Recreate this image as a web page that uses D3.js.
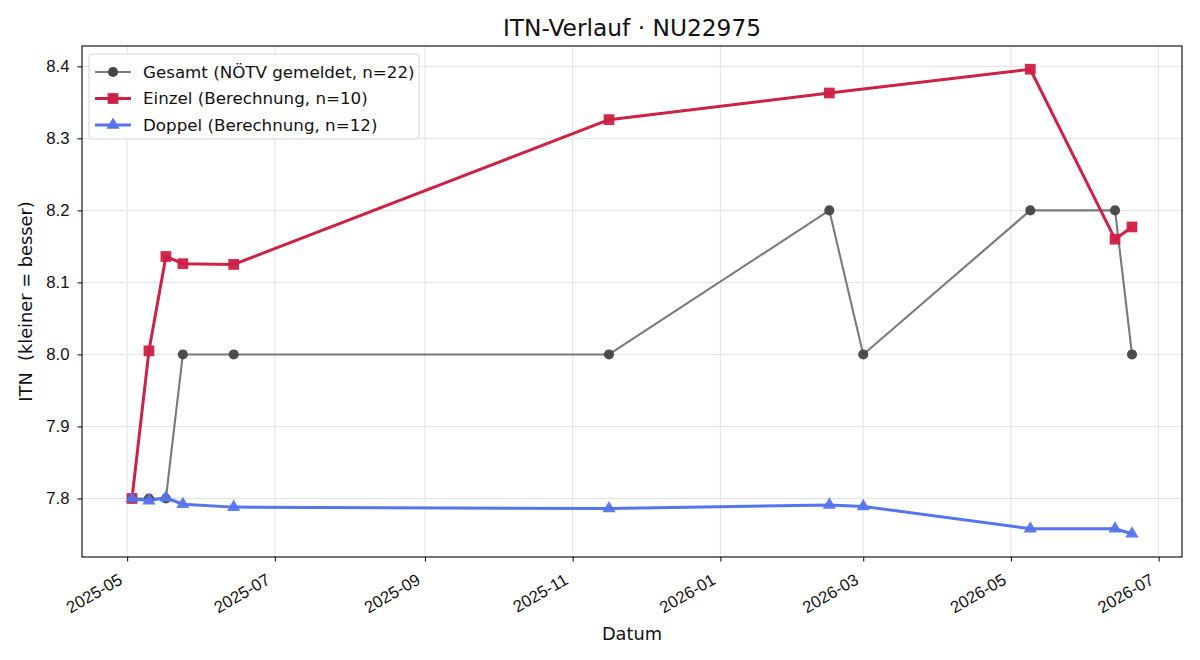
<!DOCTYPE html>
<html>
<head>
<meta charset="utf-8">
<script src="https://cdn.jsdelivr.net/npm/d3@7"></script>
<style>
  body { margin: 0; background: #fff; }
  svg { font-family: "DejaVu Sans", sans-serif; }
</style>
</head>
<body>
<svg id="chart" width="1200" height="660"></svg>
<script>
// data
const gesamtDates = ["2025-05-03", "2025-05-10", "2025-05-17", "2025-05-24", "2025-06-14", "2025-11-16",
  "2026-02-15", "2026-03-01", "2026-05-09", "2026-06-13", "2026-06-20"];
const gesamtValues = [7.8, 7.8, 7.8, 8.0, 8.0, 8.0, 8.2, 8.0, 8.2, 8.2, 8.0];

const einzelDates = ["2025-05-03", "2025-05-10", "2025-05-17", "2025-05-24", "2025-06-14", "2025-11-16",
  "2026-02-15", "2026-05-09", "2026-06-13", "2026-06-20"];
const einzelValues = [7.8, 8.005, 8.136, 8.126, 8.125, 8.326, 8.363, 8.396, 8.160, 8.177];

const doppelDates = ["2025-05-03", "2025-05-10", "2025-05-17", "2025-05-24", "2025-06-14", "2025-11-16",
  "2026-02-15", "2026-03-01", "2026-05-09", "2026-06-13", "2026-06-20"];
const doppelValues = [7.8, 7.797, 7.801, 7.792, 7.788, 7.786, 7.791, 7.789, 7.758, 7.758, 7.751];

const yTicks = [7.8, 7.9, 8.0, 8.1, 8.2, 8.3, 8.4];
const xTickDates = ["2025-05-01", "2025-07-01", "2025-09-01", "2025-11-01", "2026-01-01", "2026-03-01", "2026-05-01", "2026-07-01"];

const labels = ["Gesamt (NÖTV gemeldet, n=22)", "Einzel (Berechnung, n=10)", "Doppel (Berechnung, n=12)"];

const parse = d3.utcParse("%Y-%m-%d");
const zip = (ds, vs) => ds.map((d, i) => ({ date: parse(d), value: vs[i] }));

const series = [
  { name: labels[0], data: zip(gesamtDates, gesamtValues), line: "#7a7a7a", mark: "#444444", width: 2.1, symbol: d3.symbolCircle, size: 80 },
  { name: labels[1], data: zip(einzelDates, einzelValues), line: "#cc2244", mark: "#cf1f45", width: 3, symbol: d3.symbolSquare, size: 115 },
  { name: labels[2], data: zip(doppelDates, doppelValues), line: "#5574ee", mark: "#5574ee", width: 3, symbol: d3.symbolTriangle, size: 75 }
];

const fs = 16.7;
const margin = { top: 46, right: 18, bottom: 103, left: 82 },
  width = 1200 - margin.left - margin.right,
  height = 660 - margin.top - margin.bottom;

const svg = d3.select("#chart");
const g = svg.append("g").attr("transform", `translate(${margin.left},${margin.top})`);

// matplotlib-like 5% margins
const allData = series.flatMap(s => s.data);
const [xMin, xMax] = d3.extent(allData, d => d.date);
const xPad = (xMax - xMin) * 0.05;
const [yMin, yMax] = d3.extent(allData, d => d.value);
const yPad = (yMax - yMin) * 0.05;

const x = d3.scaleUtc()
  .domain([new Date(+xMin - xPad), new Date(+xMax + xPad)])
  .range([0, width]);

const y = d3.scaleLinear()
  .domain([yMin - yPad, yMax + yPad])
  .range([height, 0]);

// grid
g.append("g")
  .selectAll("line")
  .data(xTickDates.map(parse))
  .join("line")
  .attr("x1", d => x(d)).attr("x2", d => x(d))
  .attr("y1", 0).attr("y2", height)
  .attr("stroke", "#e3e3e3");

g.append("g")
  .selectAll("line")
  .data(yTicks)
  .join("line")
  .attr("x1", 0).attr("x2", width)
  .attr("y1", d => y(d)).attr("y2", d => y(d))
  .attr("stroke", "#e3e3e3");

// axes
const xAxis = g.append("g")
  .attr("transform", `translate(0,${height})`)
  .call(d3.axisBottom(x).tickValues(xTickDates.map(parse)).tickFormat(d3.utcFormat("%Y-%m")).tickSize(4.5));
xAxis.select(".domain").remove();
xAxis.selectAll("text")
  .attr("font-size", fs)
  .attr("fill", "#111")
  .attr("text-anchor", "end")
  .attr("x", 0).attr("y", 0).attr("dy", 0)
  .attr("transform", "translate(-4,26) rotate(-30)");

const yAxis = g.append("g")
  .call(d3.axisLeft(y).tickValues(yTicks).tickFormat(d3.format(".1f")).tickSize(4.5).tickPadding(8));
yAxis.select(".domain").remove();
yAxis.selectAll("text").attr("font-size", fs).attr("fill", "#111");

g.selectAll(".tick line").attr("stroke", "#000");

// lines and markers
const line = d3.line().x(d => x(d.date)).y(d => y(d.value));

series.forEach(s => {
  g.append("path")
    .datum(s.data)
    .attr("fill", "none")
    .attr("stroke", s.line)
    .attr("stroke-width", s.width)
    .attr("stroke-linejoin", "round")
    .attr("d", line);

  g.append("g")
    .selectAll("path")
    .data(s.data)
    .join("path")
    .attr("transform", d => `translate(${x(d.date)},${y(d.value)})`)
    .attr("d", d3.symbol().type(s.symbol).size(s.size))
    .attr("fill", s.mark)
    .attr("opacity", 0.95);
});

// frame
g.append("rect")
  .attr("width", width).attr("height", height)
  .attr("fill", "none").attr("stroke", "#000").attr("stroke-width", 1.1);

// legend
const legend = g.append("g").attr("transform", "translate(7,8)");
legend.append("rect")
  .attr("width", 330).attr("height", 85).attr("rx", 3)
  .attr("fill", "#fff").attr("fill-opacity", 0.85)
  .attr("stroke", "#d5d5d5");

series.forEach((s, i) => {
  const ly = 18 + i * 26.5;
  legend.append("line")
    .attr("x1", 6).attr("x2", 42).attr("y1", ly).attr("y2", ly)
    .attr("stroke", s.line).attr("stroke-width", s.width);
  legend.append("path")
    .attr("transform", `translate(24,${ly})`)
    .attr("d", d3.symbol().type(s.symbol).size(s.size))
    .attr("fill", s.mark);
  legend.append("text")
    .attr("x", 54).attr("y", ly)
    .attr("dy", "0.35em")
    .attr("font-size", fs)
    .attr("fill", "#111")
    .text(s.name);
});

// titles
svg.append("text")
  .attr("x", margin.left + width / 2).attr("y", 36)
  .attr("text-anchor", "middle")
  .attr("font-size", 23.3)
  .attr("fill", "#111")
  .text("ITN-Verlauf · NU22975");

svg.append("text")
  .attr("x", margin.left + width / 2).attr("y", 640)
  .attr("text-anchor", "middle")
  .attr("font-size", 17.8)
  .attr("fill", "#111")
  .text("Datum");

svg.append("text")
  .attr("transform", `translate(32,${margin.top + height / 2}) rotate(-90)`)
  .attr("text-anchor", "middle")
  .attr("font-size", 17.8)
  .attr("fill", "#111")
  .style("white-space", "pre")
  .text("ITN  (kleiner = besser)");
</script>
</body>
</html>
